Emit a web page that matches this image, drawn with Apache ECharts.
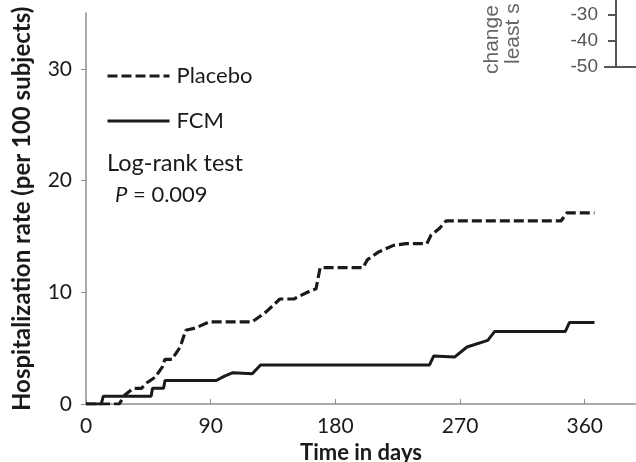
<!DOCTYPE html>
<html>
<head>
<meta charset="utf-8">
<script src="https://cdn.jsdelivr.net/npm/echarts@6/dist/echarts.min.js"></script>
<style>
  html, body { margin: 0; padding: 0; background: #fff; }
  #main { width: 636px; height: 462px; }
</style>
</head>
<body>
<div id="main"></div>
<script>
// cumulative hospitalization rate
var placeboDays = [0, 24, 28, 34, 40, 44, 50, 55, 57, 62, 68, 72, 79, 89, 120, 130, 140, 150, 163, 166, 169, 200, 203, 211, 222, 231, 246, 249, 255, 260, 343, 347, 367];
var placeboRate = [0, 0, 0.8, 1.4, 1.4, 1.9, 2.4, 3.3, 4.0, 4.0, 5.1, 6.6, 6.8, 7.35, 7.35, 8.25, 9.4, 9.4, 10.2, 10.3, 12.2, 12.2, 12.9, 13.6, 14.2, 14.35, 14.35, 15.1, 15.7, 16.4, 16.4, 17.1, 17.1];

var fcmDays = [0, 11, 12.5, 47, 48, 56, 57, 94, 100, 106, 120, 126, 248, 251, 266, 275, 290, 295, 346, 349, 367];
var fcmRate = [0, 0, 0.7, 0.7, 1.4, 1.4, 2.1, 2.1, 2.5, 2.8, 2.7, 3.5, 3.5, 4.3, 4.2, 5.1, 5.7, 6.5, 6.5, 7.3, 7.3];

var xTicks = [0, 90, 180, 270, 360];
var yTicks = [0, 10, 20, 30];

function pairs(xs, ys) {
  return xs.map(function (x, i) { return [x, ys[i]]; });
}

var font = 'Lato, "Open Sans", sans-serif';
var axisGray = '#8f8f8f';
var ink = '#1a1a1a';

var myChart = echarts.init(document.getElementById('main'));

var option = {
  animation: false,
  backgroundColor: '#fff',
  grid: { left: 86, right: 0, top: 13, bottom: 58, outerBoundsMode: 'none', containLabel: false },
  legend: {
    orient: 'vertical',
    left: 101,
    top: 60,
    itemWidth: 62,
    itemHeight: 20,
    itemGap: 23,
    itemStyle: { opacity: 0 },
    lineStyle: { width: 3 },
    textStyle: { fontFamily: font, fontSize: 22, color: ink, padding: [0, 0, 0, 2] },
    data: ['Placebo', 'FCM']
  },
  xAxis: {
    type: 'value',
    min: 0,
    max: 397,
    name: 'Time in days',
    nameLocation: 'middle',
    nameGap: 31,
    nameTextStyle: { fontFamily: font, fontSize: 22, fontWeight: 'bold', color: ink },
    axisLine: { show: true, lineStyle: { color: axisGray, width: 1.5 } },
    axisTick: { show: true, inside: true, length: 5, customValues: xTicks, lineStyle: { color: axisGray } },
    axisLabel: { customValues: xTicks, margin: 12, fontFamily: font, fontSize: 21, color: ink },
    splitLine: { show: false }
  },
  yAxis: {
    type: 'value',
    min: 0,
    max: 35,
    axisLine: { show: true, lineStyle: { color: axisGray, width: 1.5 } },
    axisTick: { show: true, length: 5, customValues: yTicks, lineStyle: { color: axisGray } },
    axisLabel: { customValues: yTicks, margin: 14, fontFamily: font, fontSize: 21, color: ink },
    splitLine: { show: false }
  },
  series: [
    {
      name: 'Placebo',
      type: 'line',
      symbol: 'none',
      data: pairs(placeboDays, placeboRate),
      lineStyle: { color: ink, width: 3.2, type: [10, 4] },
      itemStyle: { color: ink }
    },
    {
      name: 'FCM',
      type: 'line',
      symbol: 'none',
      data: pairs(fcmDays, fcmRate),
      lineStyle: { color: ink, width: 3, type: 'solid' },
      itemStyle: { color: ink }
    }
  ],
  graphic: [
    // y axis title, cut off at the top in the original
    {
      type: 'text', x: 22, y: 411, rotation: Math.PI / 2,
      style: { text: 'Hospitalization rate (per 100 subjects)', fontFamily: font, fontSize: 24, fontWeight: 'bold', fill: ink, align: 'left', verticalAlign: 'middle' }
    },
    {
      type: 'text', x: 107, y: 163,
      style: { text: 'Log-rank test', fontFamily: font, fontSize: 23.5, fill: ink, verticalAlign: 'middle' }
    },
    {
      type: 'text', x: 115, y: 195,
      style: {
        text: '{i|P} = 0.009',
        fontFamily: font, fontSize: 22, fill: ink, verticalAlign: 'middle',
        rich: { i: { fontFamily: font, fontSize: 22, fontStyle: 'italic', fill: ink } }
      }
    },
    // fragment of the neighbouring panel at top right
    {
      type: 'text', x: 492, y: 74, rotation: Math.PI / 2,
      style: { text: 'change', fontFamily: 'Liberation Sans', fontSize: 21, fill: '#666', align: 'left', verticalAlign: 'middle' }
    },
    {
      type: 'text', x: 513, y: 64, rotation: Math.PI / 2,
      style: { text: 'least s', fontFamily: 'Liberation Sans', fontSize: 21, fill: '#666', align: 'left', verticalAlign: 'middle' }
    },
    { type: 'text', x: 598, y: 15, style: { text: '-30', fontFamily: 'Liberation Sans', fontSize: 19, fill: '#555', align: 'right', verticalAlign: 'middle' } },
    { type: 'text', x: 598, y: 41, style: { text: '-40', fontFamily: 'Liberation Sans', fontSize: 19, fill: '#555', align: 'right', verticalAlign: 'middle' } },
    { type: 'text', x: 598, y: 67, style: { text: '-50', fontFamily: 'Liberation Sans', fontSize: 19, fill: '#555', align: 'right', verticalAlign: 'middle' } },
    { type: 'line', shape: { x1: 616, y1: 0, x2: 616, y2: 67 }, style: { stroke: '#555', lineWidth: 2 } },
    { type: 'line', shape: { x1: 604, y1: 67, x2: 636, y2: 67 }, style: { stroke: '#555', lineWidth: 2 } },
    { type: 'line', shape: { x1: 608, y1: 15, x2: 616, y2: 15 }, style: { stroke: '#555', lineWidth: 2 } },
    { type: 'line', shape: { x1: 608, y1: 41, x2: 616, y2: 41 }, style: { stroke: '#555', lineWidth: 2 } }
  ]
};

myChart.setOption(option);
</script>
</body>
</html>
